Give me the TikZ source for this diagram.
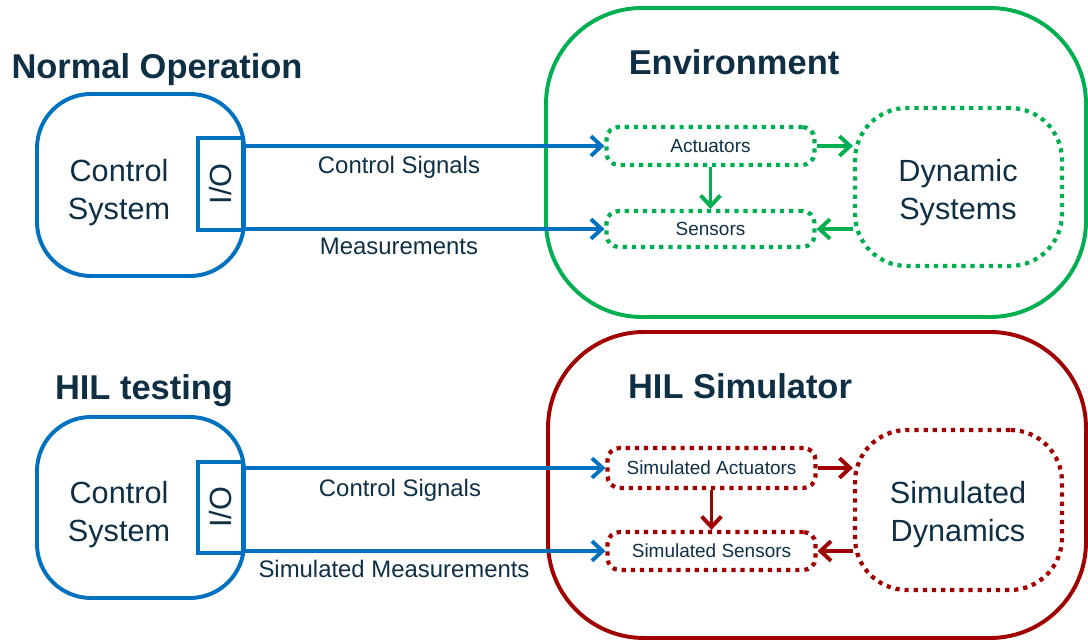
\documentclass[tikz,border=0pt]{standalone}
\usepackage{fontspec}
\setmainfont{Liberation Sans}
\usetikzlibrary{arrows.meta}
\definecolor{ctrlblue}{HTML}{0070C0}
\definecolor{envgreen}{HTML}{00B050}
\definecolor{hilred}{HTML}{A00000}
\definecolor{txtnavy}{HTML}{0F2F45}
\begin{document}
\begin{tikzpicture}[>={Straight Barb[length=7.5pt,width=14pt]}, text=txtnavy,
    title/.style={font=\fontsize{24.5}{28}\selectfont\bfseries},
    big/.style={font=\fontsize{21.8}{27}\selectfont, align=center},
    lbl/.style={font=\fontsize{17}{20}\selectfont},
    small/.style={font=\fontsize{13.5}{16}\selectfont},
    csbox/.style={draw=ctrlblue, line width=2.8pt, rounded corners=1.35cm, minimum width=5.175cm, minimum height=4.55cm},
    iobox/.style={draw=ctrlblue, fill=white, line width=2.8pt, minimum width=1.125cm, minimum height=2.3cm, big},
    outerbox/.style={line width=2.8pt, rounded corners=2.4cm},
    dotbox/.style={line width=3pt, dash pattern=on 3pt off 3.5pt, rounded corners=0.3cm, minimum width=5.2cm, small},
    dynbox/.style={line width=3pt, dash pattern=on 3pt off 3.5pt, rounded corners=1.3cm, minimum width=5.175cm},
    sig/.style={->, draw=ctrlblue, line width=2.8pt},
    envarr/.style={->, draw=envgreen, line width=2.8pt},
    hilarr/.style={->, draw=hilred, line width=2.8pt}]
    \useasboundingbox (0,0) rectangle (27.2,16.025);

    % normal operation
    \node (t1) [title] at (3.925,14.275) {Normal Operation};
    \node (cs1) [csbox] at (3.5125,11.4) {};
    \node (cs1txt) [big] at (2.975,11.2) {Control\\System};
    \node (io1) [iobox] at (5.5125,11.425) {\rotatebox{90}{I/O}};
    \node (env) [outerbox, draw=envgreen, minimum width=13.5cm, minimum height=7.725cm] at (20.4,11.9625) {};
    \node (t2) [title] at (18.35,14.475) {Environment};
    \node (act) [dotbox, draw=envgreen, minimum height=0.95cm] at (17.7625,12.375) {Actuators};
    \node (sen) [dotbox, draw=envgreen, minimum height=0.9cm] at (17.7625,10.3) {Sensors};
    \node (dyn) [dynbox, draw=envgreen, minimum height=3.95cm] at (23.9625,11.35) {};
    \node (dyntxt) [big] at (23.95,11.2) {Dynamic\\Systems};
    \draw[sig] (io1.east |- act.west) -- (act.west);
    \draw[sig] (io1.east |- sen.west) -- (sen.west);
    \node (csig1) [lbl] at (9.975,11.85) {Control Signals};
    \node (meas1) [lbl] at (9.975,9.875) {Measurements};
    \draw[envarr] (act.east) -- (act.east -| dyn.west);
    \draw[envarr] (sen.east -| dyn.west) -- (sen.east);
    \draw[envarr] (act.south) -- (sen.north);

    % HIL testing
    \node (t3) [title] at (3.6,6.25) {HIL testing};
    \node (cs2) [csbox, minimum height=4.525cm] at (3.5125,3.3375) {};
    \node (cs2txt) [big] at (2.975,3.15) {Control\\System};
    \node (io2) [iobox, minimum height=2.275cm] at (5.5125,3.3375) {\rotatebox{90}{I/O}};
    \node (hil) [outerbox, draw=hilred, minimum width=13.45cm, minimum height=7.65cm] at (20.425,3.9) {};
    \node (t4) [title] at (18.5,6.375) {HIL Simulator};
    \node (sact) [dotbox, draw=hilred, minimum height=1.0cm] at (17.7875,4.325) {Simulated Actuators};
    \node (ssen) [dotbox, draw=hilred, minimum height=0.95cm] at (17.7875,2.25) {Simulated Sensors};
    \node (sdyn) [dynbox, draw=hilred, minimum height=4.0cm] at (23.9625,3.275) {};
    \node (sdyntxt) [big] at (23.95,3.15) {Simulated\\Dynamics};
    \draw[sig] (io2.east |- sact.west) -- (sact.west);
    \draw[sig] (io2.east |- ssen.west) -- (ssen.west);
    \node (csig2) [lbl] at (10,3.77) {Control Signals};
    \node (meas2) [lbl] at (9.85,1.8) {Simulated Measurements};
    \draw[hilarr] (sact.east) -- (sact.east -| sdyn.west);
    \draw[hilarr] (ssen.east -| sdyn.west) -- (ssen.east);
    \draw[hilarr] (sact.south) -- (ssen.north);
\end{tikzpicture}
\end{document}
